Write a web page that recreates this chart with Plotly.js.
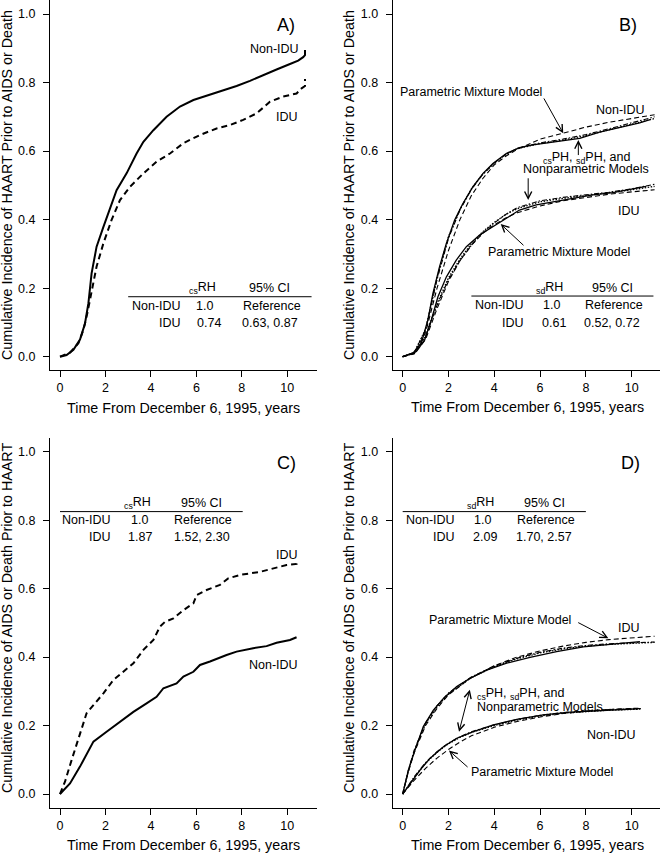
<!DOCTYPE html>
<html><head><meta charset="utf-8">
<script src="https://cdn.plot.ly/plotly-3.0.1.min.js"></script>
<style>html,body{margin:0;padding:0;background:#fff;}#plot{width:660px;height:853px;}</style>
</head><body><div id="plot"></div>
<script>
// ---------- Panel A: cumulative incidence of HAART prior to AIDS or death ----------
const aNonX = [0,0.29,0.59,0.88,1.1,1.25,1.39,1.61,1.91,2.27,2.49,2.93,3.37,3.67,4.11,4.69,5.28,5.87,6.6,7.18,7.77,8.36,8.94,9.53,10.12,10.48,10.7,10.78,10.78];
const aNonY = [0,0.005,0.02,0.05,0.097,0.156,0.243,0.321,0.379,0.447,0.486,0.535,0.593,0.627,0.661,0.70,0.730,0.749,0.764,0.776,0.790,0.805,0.822,0.838,0.854,0.864,0.874,0.88,0.895];
const aIduX = [0,0.44,0.81,1.03,1.2,1.39,1.61,1.91,2.27,2.64,3.08,3.67,4.25,4.84,5.43,6.16,6.89,7.48,8.06,8.65,9.24,9.82,10.41,10.63,10.78,10.78];
const aIduY = [0,0.012,0.039,0.078,0.126,0.185,0.263,0.331,0.399,0.457,0.496,0.535,0.569,0.593,0.623,0.647,0.666,0.676,0.691,0.710,0.744,0.759,0.768,0.783,0.79,0.81];

// ---------- Panel B: model fits, HAART outcome ----------
const bNonNpX = [0,0.45,0.81,1.1,1.32,1.61,1.91,2.27,2.63,3.07,3.51,3.94,4.52,5.1,5.69,6.41,7.15,7.73,8.6,9.47,10.35,10.8];
const bNonNpY = [0,0.01,0.039,0.107,0.185,0.263,0.331,0.399,0.447,0.496,0.535,0.564,0.593,0.61,0.618,0.625,0.632,0.637,0.655,0.668,0.682,0.692];
const bGridX = [0,0.5,1,1.5,2,2.5,3,3.5,4,4.5,5,6,7,8,9,10,11];
const bNonPmY = [0,0.01,0.07,0.2,0.31,0.40,0.47,0.52,0.56,0.585,0.605,0.635,0.652,0.670,0.684,0.696,0.706];
const bNonCsY = [0,0.012,0.08,0.23,0.35,0.43,0.49,0.533,0.565,0.59,0.607,0.622,0.632,0.645,0.662,0.678,0.695];
const bNonSdY = [0,0.012,0.078,0.225,0.345,0.428,0.488,0.532,0.565,0.59,0.608,0.624,0.635,0.648,0.665,0.682,0.70];
const bIduNpX = [0,0.6,0.96,1.25,1.54,1.91,2.34,2.78,3.36,3.94,4.52,5.1,5.83,6.55,7.43,8.3,9.18,10.05,10.63];
const bIduNpY = [0,0.015,0.049,0.107,0.175,0.233,0.282,0.321,0.355,0.379,0.405,0.428,0.443,0.452,0.462,0.472,0.479,0.489,0.497];
const bIduPmY = [0,0.008,0.05,0.14,0.22,0.28,0.325,0.36,0.385,0.405,0.42,0.44,0.455,0.465,0.474,0.481,0.487];
const bIduCsY = [0,0.01,0.06,0.155,0.23,0.285,0.33,0.365,0.392,0.415,0.432,0.452,0.462,0.47,0.478,0.487,0.497];
const bIduSdY = [0,0.01,0.058,0.15,0.225,0.28,0.325,0.362,0.39,0.415,0.435,0.455,0.465,0.472,0.48,0.49,0.503];

// ---------- Panel C: cumulative incidence of AIDS or death prior to HAART ----------
const cIduX = [0,0.22,0.51,0.88,1.17,1.54,1.91,2.35,2.79,3.23,3.67,4.11,4.4,4.62,4.99,5.43,5.87,6.01,6.45,7.04,7.4,7.92,8.8,9.38,9.97,10.41,10.41];
const cIduY = [0,0.036,0.099,0.177,0.236,0.265,0.294,0.333,0.357,0.382,0.421,0.45,0.489,0.503,0.513,0.537,0.557,0.581,0.596,0.611,0.630,0.640,0.649,0.659,0.669,0.672,0.685];
const cNonX = [0,0.44,0.88,1.47,2.05,2.64,3.23,3.81,4.25,4.55,5.13,5.43,5.87,6.16,6.6,7.33,7.77,8.5,9.09,9.53,10.12,10.41];
const cNonY = [0,0.031,0.08,0.153,0.182,0.211,0.240,0.265,0.284,0.309,0.323,0.343,0.357,0.377,0.387,0.406,0.416,0.426,0.432,0.442,0.45,0.458];

// ---------- Panel D: model fits, AIDS/death outcome ----------
const dIduNpX = [0,0.25,0.54,0.9,1.34,1.78,2.36,2.94,3.67,4.54,5.56,6.72,7.89,9.05,9.93,10.36];
const dIduNpY = [0,0.07,0.129,0.197,0.245,0.279,0.314,0.338,0.362,0.382,0.399,0.416,0.43,0.438,0.442,0.445];
const dIduGridX = [0,0.25,0.5,1,1.5,2,3,4,5,6,7,8,9,10,11];
const dIduPmY = [0,0.065,0.12,0.2,0.25,0.29,0.34,0.375,0.4,0.418,0.432,0.443,0.451,0.456,0.461];
const dIduCsY = [0,0.068,0.125,0.205,0.255,0.292,0.34,0.372,0.395,0.412,0.424,0.432,0.437,0.44,0.443];
const dIduSdY = [0,0.07,0.128,0.208,0.258,0.295,0.342,0.374,0.397,0.414,0.426,0.434,0.439,0.442,0.444];
const dNonNpX = [0,0.32,0.76,1.19,1.78,2.36,3.09,3.96,4.98,6.14,7.31,8.47,9.49,10.29];
const dNonNpY = [0,0.031,0.07,0.104,0.138,0.163,0.182,0.202,0.218,0.231,0.239,0.243,0.247,0.249];
const dNonGridX = [0,0.5,1,1.5,2,2.5,3,4,5,6,7,8,9,10,10.4];
const dNonPmY = [0,0.04,0.075,0.105,0.13,0.152,0.17,0.195,0.212,0.225,0.235,0.242,0.247,0.25,0.251];
const dNonCsY = [0,0.048,0.09,0.122,0.147,0.165,0.18,0.2,0.216,0.228,0.236,0.241,0.245,0.247,0.248];
const dNonSdY = [0,0.05,0.092,0.124,0.149,0.167,0.182,0.202,0.218,0.23,0.238,0.243,0.247,0.249,0.25];

// ---------- text ----------
const xTicks = [0,2,4,6,8,10];
const yTicks = [0,0.2,0.4,0.6,0.8,1.0];
const xTitle = "Time From December 6, 1995, years";
const yTitleTop = "Cumulative Incidence of HAART Prior to AIDS or Death";
const yTitleBottom = "Cumulative Incidence of AIDS or Death Prior to HAART";
const groups = ["Non-IDU","IDU"];
const tableA = {head:["<sub>cs</sub>RH","95% CI"], rows:[["1.0","Reference"],["0.74","0.63, 0.87"]]};
const tableB = {head:["<sub>sd</sub>RH","95% CI"], rows:[["1.0","Reference"],["0.61","0.52, 0.72"]]};
const tableC = {head:["<sub>cs</sub>RH","95% CI"], rows:[["1.0","Reference"],["1.87","1.52, 2.30"]]};
const tableD = {head:["<sub>sd</sub>RH","95% CI"], rows:[["1.0","Reference"],["2.09","1.70, 2.57"]]};

const FONT = "Liberation Sans, Arial, sans-serif";
const W = 660, H = 853;
const BLK = "#000";

function tr(x, y, ax, dash, width){
  return {x:x, y:y, xaxis:"x"+ax, yaxis:"y"+ax, type:"scatter", mode:"lines",
    line:{color:BLK, width:width, dash:dash}, hoverinfo:"skip", showlegend:false};
}
const traces = [
  tr(aNonX,aNonY,"", "solid",2), tr(aIduX,aIduY,"", "6px,4px",2),
  tr(bGridX,bNonPmY,"2","5px,3px",1.1), tr(bGridX,bNonCsY,"2","1.5px,1.5px",1.3), tr(bGridX,bNonSdY,"2","5px,2px,1.5px,2px",1.1), tr(bNonNpX,bNonNpY,"2","solid",1.3),
  tr(bGridX,bIduPmY,"2","5px,3px",1.1), tr(bGridX,bIduCsY,"2","1.5px,1.5px",1.3), tr(bGridX,bIduSdY,"2","5px,2px,1.5px,2px",1.1), tr(bIduNpX,bIduNpY,"2","solid",1.3),
  tr(cIduX,cIduY,"3","6px,4px",2), tr(cNonX,cNonY,"3","solid",2),
  tr(dIduGridX,dIduPmY,"4","5px,3px",1.1), tr(dIduGridX,dIduCsY,"4","1.5px,1.5px",1.3), tr(dIduGridX,dIduSdY,"4","5px,2px,1.5px,2px",1.1), tr(dIduNpX,dIduNpY,"4","solid",1.3),
  tr(dNonGridX,dNonPmY,"4","5px,3px",1.1), tr(dNonGridX,dNonCsY,"4","1.5px,1.5px",1.3), tr(dNonGridX,dNonSdY,"4","5px,2px,1.5px,2px",1.1), tr(dNonNpX,dNonNpY,"4","solid",1.3)
];

// axis geometry (pixels)
const colL = [50/W, 316.8/W], colR = [392.6/W, 1];
const rowT = [(H-370.4)/H, (H-0.3)/H], rowB = [(H-807.7)/H, (H-438)/H];
const xRangeL = [-0.44, 11.3], xRangeR = [-0.44, 11.236];
function xa(dom, rng, anchor){
  return {domain:dom, range:rng, anchor:anchor, showline:true, linecolor:BLK, linewidth:1,
    ticks:"outside", ticklen:6, tickwidth:1, tickcolor:BLK, tickvals:xTicks, ticktext:xTicks.map(String),
    showgrid:false, zeroline:false, tickfont:{family:FONT, size:12.5, color:BLK}, fixedrange:true};
}
function ya(dom, anchor){
  return {domain:dom, range:[-0.04,1.04], anchor:anchor, showline:true, linecolor:BLK, linewidth:1,
    ticks:"outside", ticklen:6, tickwidth:1, tickcolor:BLK, tickvals:yTicks, ticktext:yTicks.map(v=>v.toFixed(1)),
    showgrid:false, zeroline:false, tickfont:{family:FONT, size:12.5, color:BLK}, ticklabelstandoff:5, fixedrange:true};
}

const anns = [];
function txt(text, x, y, ax, opts){
  anns.push(Object.assign({text:text, x:x, y:y, xref:"x"+ax, yref:"y"+ax, showarrow:false,
    xanchor:"center", yanchor:"middle", font:{family:FONT, size:12.5, color:BLK}}, opts||{}));
}
function arrow(x, y, tx, ty, ax, opts){
  anns.push(Object.assign({text:"", x:x, y:y, ax:tx, ay:ty, xref:"x"+ax, yref:"y"+ax, axref:"x"+ax, ayref:"y"+ax,
    showarrow:true, arrowhead:5, arrowsize:1.4, arrowwidth:1, arrowcolor:BLK}, opts||{}));
}
function paperTxt(text, px, py, opts){
  anns.push(Object.assign({text:text, x:px/W, y:1-py/H, xref:"paper", yref:"paper", showarrow:false,
    xanchor:"center", yanchor:"middle", font:{family:FONT, size:14.3, color:BLK}}, opts||{}));
}
const shapes = [];
function table(t, ax, lx0, lx1, yHead, yLine, yR1, yR2, xLab, xC1, xC2){
  shapes.push({type:"line", xref:"x"+ax, yref:"y"+ax, x0:lx0, x1:lx1, y0:yLine, y1:yLine, line:{color:BLK, width:1}});
  txt(t.head[0], xC1[0], yHead, ax); txt(t.head[1], xC2[0], yHead, ax);
  txt(groups[0], xLab, yR1, ax, {xanchor:"right"}); txt(t.rows[0][0], xC1[1], yR1, ax); txt(t.rows[0][1], xC2[1], yR1, ax);
  txt(groups[1], xLab, yR2, ax, {xanchor:"right"}); txt(t.rows[1][0], xC1[2], yR2, ax); txt(t.rows[1][1], xC2[2], yR2, ax);
}

// Panel A
txt("A)", 9.94, 0.968, "", {font:{family:FONT, size:18, color:BLK}});
txt(groups[0], 9.44, 0.897, ""); txt(groups[1], 10.0, 0.699, "");
table(tableA, "", 3.0, 11.07, 0.200, 0.175, 0.149, 0.097, 5.42, [6.25,6.36,6.55], [9.24,9.31,9.22]);
// Panel B
txt("B)", 9.83, 0.968, "2", {font:{family:FONT, size:18, color:BLK}});
txt("Parametric Mixture Model", 2.97, 0.773, "2");
txt(groups[0], 9.52, 0.72, "2");
txt("<sub>cs</sub>PH, <sub>sd</sub>PH, and", 8.05, 0.579, "2");
txt("Nonparametric Models", 7.99, 0.547, "2");
txt(groups[1], 9.9, 0.426, "2");
txt("Parametric Mixture Model", 6.83, 0.306, "2");
arrow(7.01, 0.652, 6.13, 0.758, "2");
arrow(7.67, 0.632, 7.67, 0.584, "2");
arrow(5.48, 0.457, 5.48, 0.525, "2");
arrow(4.28, 0.387, 5.34, 0.321, "2");
table(tableB, "2", 3.0, 10.95, 0.200, 0.177, 0.151, 0.099, 5.4, [6.4,6.51,6.59], [9.14,9.23,9.14]);
// Panel C
txt("C)", 9.97, 0.967, "3", {font:{family:FONT, size:18, color:BLK}});
txt(groups[1], 10.0, 0.698, "3"); txt(groups[0], 9.41, 0.377, "3");
table(tableC, "3", 0.0, 8.04, 0.849, 0.825, 0.800, 0.750, 2.35, [3.4,3.48,3.52], [6.23,6.3,6.23]);
// Panel D
txt("D)", 9.93, 0.967, "4", {font:{family:FONT, size:18, color:BLK}});
txt("Parametric Mixture Model", 4.25, 0.508, "4");
txt(groups[1], 9.9, 0.484, "4");
txt("<sub>cs</sub>PH, <sub>sd</sub>PH, and", 3.16, 0.292, "4", {xanchor:"left"});
txt("Nonparametric Models", 3.16, 0.253, "4", {xanchor:"left"});
txt(groups[0], 9.11, 0.172, "4");
txt("Parametric Mixture Model", 6.07, 0.065, "4");
arrow(8.98, 0.455, 7.6, 0.503, "4");
arrow(2.46, 0.182, 2.95, 0.309, "4", {arrowside:"end+start"});
arrow(2.02, 0.127, 2.9, 0.075, "4");
table(tableD, "4", 0.0, 8.0, 0.849, 0.825, 0.800, 0.750, 2.38, [3.4,3.48,3.58], [6.21,6.26,6.16]);

// axis titles
paperTxt(xTitle, 183.5, 407.7); paperTxt(xTitle, 527, 406.7);
paperTxt(xTitle, 183.5, 845); paperTxt(xTitle, 527, 845);
paperTxt(yTitleTop, 7, 185, {textangle:-90}); paperTxt(yTitleTop, 349, 185, {textangle:-90});
paperTxt(yTitleBottom, 7, 618, {textangle:-90}); paperTxt(yTitleBottom, 349, 618, {textangle:-90});

const layout = {
  width:W, height:H, margin:{l:0,r:0,t:0,b:0}, paper_bgcolor:"#fff", plot_bgcolor:"rgba(0,0,0,0)",
  showlegend:false, hovermode:false, font:{family:FONT, color:BLK},
  xaxis:xa(colL,xRangeL,"y"), yaxis:ya(rowT,"x"),
  xaxis2:xa(colR,xRangeR,"y2"), yaxis2:ya(rowT,"x2"),
  xaxis3:xa(colL,xRangeL,"y3"), yaxis3:ya(rowB,"x3"),
  xaxis4:xa(colR,xRangeR,"y4"), yaxis4:ya(rowB,"x4"),
  annotations:anns, shapes:shapes
};
Plotly.newPlot("plot", traces, layout, {staticPlot:true, displayModeBar:false});
</script></body></html>
